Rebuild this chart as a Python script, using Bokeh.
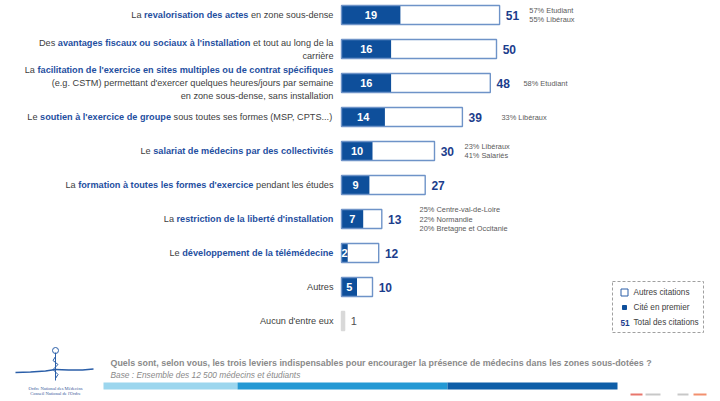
import unicodedata
from bokeh.plotting import figure
from bokeh.models import Range1d, ColumnDataSource
from bokeh.core.properties import value
from bokeh.embed import file_html
from bokeh.resources import INLINE

# ---------------- data ----------------
# each label: list of lines, each line a list of (text, highlighted)
label_lines = [
    [[("La ", 0), ("revalorisation des actes", 1), (" en zone sous-dense", 0)]],
    [[("Des ", 0), ("avantages fiscaux ou sociaux à l'installation", 1), (" et tout au long de la", 0)],
     [("carrière", 0)]],
    [[("La ", 0), ("facilitation de l'exercice en sites multiples ou de contrat spécifiques", 1)],
     [("(e.g. CSTM) permettant d'exercer quelques heures/jours par semaine", 0)],
     [("en zone sous-dense, sans installation", 0)]],
    [[("Le ", 0), ("soutien à l'exercice de groupe", 1), (" sous toutes ses formes (MSP, CPTS...)", 0)]],
    [[("Le ", 0), ("salariat de médecins par des collectivités", 1)]],
    [[("La ", 0), ("formation à toutes les formes d'exercice", 1), (" pendant les études", 0)]],
    [[("La ", 0), ("restriction de la liberté d'installation", 1)]],
    [[("Le ", 0), ("développement de la télémédecine", 1)]],
    [[("Autres", 0)]],
    [[("Aucun d'entre eux", 0)]],
]
first_cited = [19, 16, 16, 14, 10, 9, 7, 2, 5, 0]
total_cited = [51, 50, 48, 39, 30, 27, 13, 12, 10, 1]
notes = [
    ["57% Etudiant", "55% Libéraux"],
    [],
    ["58% Etudiant"],
    ["33% Libéraux"],
    ["23% Libéraux", "41% Salariés"],
    [],
    ["25% Centre-val-de-Loire", "22% Normandie", "20% Bretagne et Occitanie"],
    [],
    [],
    [],
]
legend_labels = ["Autres citations", "Cité en premier", "Total des citations"]
question = ("Quels sont, selon vous, les trois leviers indispensables pour encourager "
            "la présence de médecins dans les zones sous-dotées ?")
base_text = "Base : Ensemble des 12 500 médecins et étudiants"
logo_lines = ["Ordre National des Médecins", "Conseil National de l'Ordre"]

# ---------------- layout / style ----------------
FONT = "Liberation Sans"
PX = 3.1        # pixels per citation point
X0 = 341.0      # page x of the bars' origin
ROW0 = 14.5     # page y of first row centre
ROWH = 34.0     # row pitch (px)
LINE_H = 13.0
NOTE_H = 9.5
note_gap = [9.6, 0, 10.7, 12.6, 9.7, 0, 12.2, 0, 0, 0]
label_targets = [[198], [293, None], [302, 296, 155], [298], [187], [277], [168], [163], [27], [77]]
DARK = "#0e4f9b"
BORDER = "#6e93c8"
BLUE_TXT = "#1f4f9f"
GRAY_TXT = "#404040"
VAL_TXT = "#1b3d8c"
W_PAGE, H_PAGE = 720, 401


def X(px):
    return (px - X0) / PX


def Y(py):
    return (py - ROW0) / ROWH


REG = {' ': 278, '!': 278, '%': 889, "'": 191, '(': 333, ')': 333, ',': 278, '-': 333, '.': 278,
       '/': 278, ':': 278, '?': 556, 'A': 667, 'B': 667, 'C': 722, 'D': 722, 'E': 667, 'F': 611,
       'G': 778, 'H': 722, 'I': 278, 'J': 500, 'K': 667, 'L': 556, 'M': 833, 'N': 722, 'O': 778,
       'P': 667, 'Q': 778, 'R': 722, 'S': 667, 'T': 611, 'U': 722, 'V': 667, 'W': 944, 'X': 667,
       'Y': 667, 'Z': 611, 'a': 556, 'b': 556, 'c': 500, 'd': 556, 'e': 556, 'f': 278, 'g': 556,
       'h': 556, 'i': 222, 'j': 222, 'k': 500, 'l': 222, 'm': 833, 'n': 556, 'o': 556, 'p': 556,
       'q': 556, 'r': 333, 's': 500, 't': 278, 'u': 556, 'v': 500, 'w': 722, 'x': 500, 'y': 500,
       'z': 500}
BOLD = {' ': 278, '!': 333, '%': 889, "'": 238, '(': 333, ')': 333, ',': 278, '-': 333, '.': 278,
        '/': 278, ':': 333, '?': 611, 'A': 722, 'B': 722, 'C': 722, 'D': 722, 'E': 667, 'F': 611,
        'G': 778, 'H': 722, 'I': 278, 'J': 556, 'K': 722, 'L': 611, 'M': 833, 'N': 722, 'O': 778,
        'P': 667, 'Q': 778, 'R': 722, 'S': 667, 'T': 611, 'U': 722, 'V': 667, 'W': 944, 'X': 667,
        'Y': 667, 'Z': 611, 'a': 556, 'b': 611, 'c': 556, 'd': 611, 'e': 556, 'f': 333, 'g': 611,
        'h': 611, 'i': 278, 'j': 278, 'k': 556, 'l': 278, 'm': 889, 'n': 611, 'o': 611, 'p': 611,
        'q': 611, 'r': 389, 's': 556, 't': 333, 'u': 611, 'v': 556, 'w': 778, 'x': 556, 'y': 556,
        'z': 500}


def em(text, bold=False):
    table = BOLD if bold else REG
    tot = 0
    for ch in text:
        if ch.isdigit():
            tot += 556
            continue
        base = unicodedata.normalize("NFD", ch)[0]
        tot += table.get(base, 556)
    return tot / 1000.0


# fitted label font size
sum_t = 0.0
sum_e = 0.0
for lines, tg in zip(label_lines, label_targets):
    for line, t in zip(lines, tg):
        if t is None:
            continue
        sum_t += t
        sum_e += sum(em(s, b) for s, b in line)
FS = sum_t / sum_e

p = figure(width=W_PAGE, height=H_PAGE, x_range=Range1d(X(0), X(W_PAGE)),
           y_range=Range1d(Y(H_PAGE), Y(0)), x_axis_type=None, y_axis_type=None,
           output_backend="svg", toolbar_location=None, min_border=0)
p.outline_line_color = None
p.background_fill_color = "white"
p.border_fill_color = "white"

n = len(total_cited)
rows = list(range(n))
outer_fill = ["white"] * (n - 1) + ["#d9d9d9"]
outer_line = [BORDER] * (n - 1) + ["#d9d9d9"]
bars = ColumnDataSource(dict(y=rows, total=total_cited, first=first_cited,
                             fill=outer_fill, line=outer_line))
p.hbar(y="y", left=0, right="total", height=0.56, fill_color="fill", line_color=None, source=bars)
p.hbar(y="y", left=0, right="first", height=0.56, fill_color=DARK, line_color=None, source=bars)
p.hbar(y="y", left=0, right="total", height=0.56, fill_alpha=0, line_color="line",
       line_width=1.4, source=bars)

# numbers inside dark bars
idx = [i for i in rows if first_cited[i] > 0]
p.text(x=[first_cited[i] / 2 for i in idx], y=idx, text=[str(first_cited[i]) for i in idx],
       text_color="white", text_font=value(FONT), text_font_style="bold", text_font_size="11px",
       text_align="center", text_baseline="middle")

# totals
main = [i for i in rows if first_cited[i] > 0]
p.text(x=[total_cited[i] + 2 for i in main], y=main, text=[str(total_cited[i]) for i in main],
       text_color=VAL_TXT, text_font=value(FONT), text_font_style="bold", text_font_size="12px",
       text_align="left", text_baseline="middle")
rest = [i for i in rows if first_cited[i] == 0]
p.text(x=[total_cited[i] + 2 for i in rest], y=rest, text=[str(total_cited[i]) for i in rest],
       text_color="#505050", text_font=value(FONT), text_font_size="11px",
       text_align="left", text_baseline="middle")

# category labels (mixed styles)
segs = {0: dict(x=[], y=[], text=[]), 1: dict(x=[], y=[], text=[])}
for i, lines in enumerate(label_lines):
    nl = len(lines)
    cy = ROW0 + ROWH * i
    for j, line in enumerate(lines):
        py = cy + (j - (nl - 1) / 2) * LINE_H
        W = sum(em(s, b) for s, b in line) * FS
        cur = 333.0 - W
        for s, b in line:
            lead = len(s) - len(s.lstrip())
            st = s.strip()
            xx = cur + em(s[:lead], b) * FS
            segs[b]["x"].append(X(xx))
            segs[b]["y"].append(Y(py))
            segs[b]["text"].append(st)
            cur += em(s, b) * FS
p.text(x="x", y="y", text="text", source=ColumnDataSource(segs[0]), text_color=GRAY_TXT,
       text_font=value(FONT), text_font_size=f"{FS:.2f}px", text_align="left", text_baseline="middle")
p.text(x="x", y="y", text="text", source=ColumnDataSource(segs[1]), text_color=BLUE_TXT,
       text_font=value(FONT), text_font_style="bold", text_font_size=f"{FS:.2f}px",
       text_align="left", text_baseline="middle")

# side notes
nx, ny, nt = [], [], []
for i, lst in enumerate(notes):
    k = len(lst)
    for j, t in enumerate(lst):
        nx.append(total_cited[i] + note_gap[i])
        ny.append(Y(ROW0 + ROWH * i + (j - (k - 1) / 2) * NOTE_H))
        nt.append(t)
p.text(x=nx, y=ny, text=nt, text_color="#5a5a5a", text_font=value(FONT), text_font_size="7.4px",
       text_align="left", text_baseline="middle")

# legend box
p.quad(left=[X(612)], right=[X(703)], top=[Y(281)], bottom=[Y(332)], fill_alpha=0,
       line_color="#a0a0a0", line_dash="3 2", line_width=1)
p.scatter(x=[X(624)], y=[Y(292)], marker="square", size=7, fill_color="white",
          line_color="#2a5ea8", line_width=1)
p.scatter(x=[X(624)], y=[Y(307)], marker="square", size=4, fill_color=DARK, line_color=DARK)
p.text(x=[X(620)], y=[Y(322)], text=[str(total_cited[0])], text_color=VAL_TXT, text_font=value(FONT),
       text_font_style="bold", text_font_size="8.2px", text_align="left", text_baseline="middle")
p.text(x=[X(633)] * 3, y=[Y(292), Y(307), Y(322)], text=legend_labels, text_color=GRAY_TXT,
       text_font=value(FONT), text_font_size="8.2px", text_align="left", text_baseline="middle")

# footer texts
q_fs = 542 / em(question, True)
p.text(x=[X(110)], y=[Y(362)], text=[question], text_color="#8a8a8a", text_font=value(FONT),
       text_font_style="bold", text_font_size=f"{q_fs:.2f}px", text_align="left", text_baseline="middle")
b_fs = 190 / em(base_text)
p.text(x=[X(110)], y=[Y(374)], text=[base_text], text_color="#8a8a8a", text_font=value(FONT),
       text_font_style="italic", text_font_size=f"{b_fs:.2f}px", text_align="left", text_baseline="middle")

# footer band
p.quad(left=[X(103), X(237), X(447)], right=[X(237), X(447), X(617)],
       top=[Y(382)] * 3, bottom=[Y(389)] * 3,
       fill_color=["#9cd6ee", "#2499d4", "#0e5ea8"], line_color=None)
# small marks bottom right
p.quad(left=[X(630), X(645), X(677), X(693)], right=[X(642), X(660), X(688), X(706)],
       top=[Y(393)] * 4, bottom=[Y(395)] * 4,
       fill_color=["#e8766c", "#c8c8c8", "#c8c8c8", "#f2906e"], line_color=None)

# logo (simplified caduceus)
LOGO = "#2a5ea8"
p.line(x=[X(15), X(30), X(45), X(55)], y=[Y(372), Y(371.5), Y(370.5), Y(369)], line_color=LOGO,
       line_width=1.4)
p.line(x=[X(55), X(68), X(82), X(93)], y=[Y(369), Y(369.5), Y(369.5), Y(368.5)], line_color=LOGO,
       line_width=1.4)
p.line(x=[X(55), X(55)], y=[Y(352), Y(380)], line_color=LOGO, line_width=1)
p.line(x=[X(55), X(52.5), X(57.5), X(52.5), X(57.5), X(55)],
       y=[Y(356), Y(360), Y(364), Y(369), Y(374), Y(378)], line_color=LOGO, line_width=1)
p.scatter(x=[X(55)], y=[Y(350)], marker="circle", size=6, fill_alpha=0, line_color=LOGO,
          line_width=1)
p.text(x=[X(55)] * 2, y=[Y(388), Y(393)], text=logo_lines, text_color="#3a5a9a",
       text_font=value("Liberation Serif"), text_font_size="4.6px", text_align="center",
       text_baseline="middle")

open("out.html", "w").write(file_html(p, INLINE))
